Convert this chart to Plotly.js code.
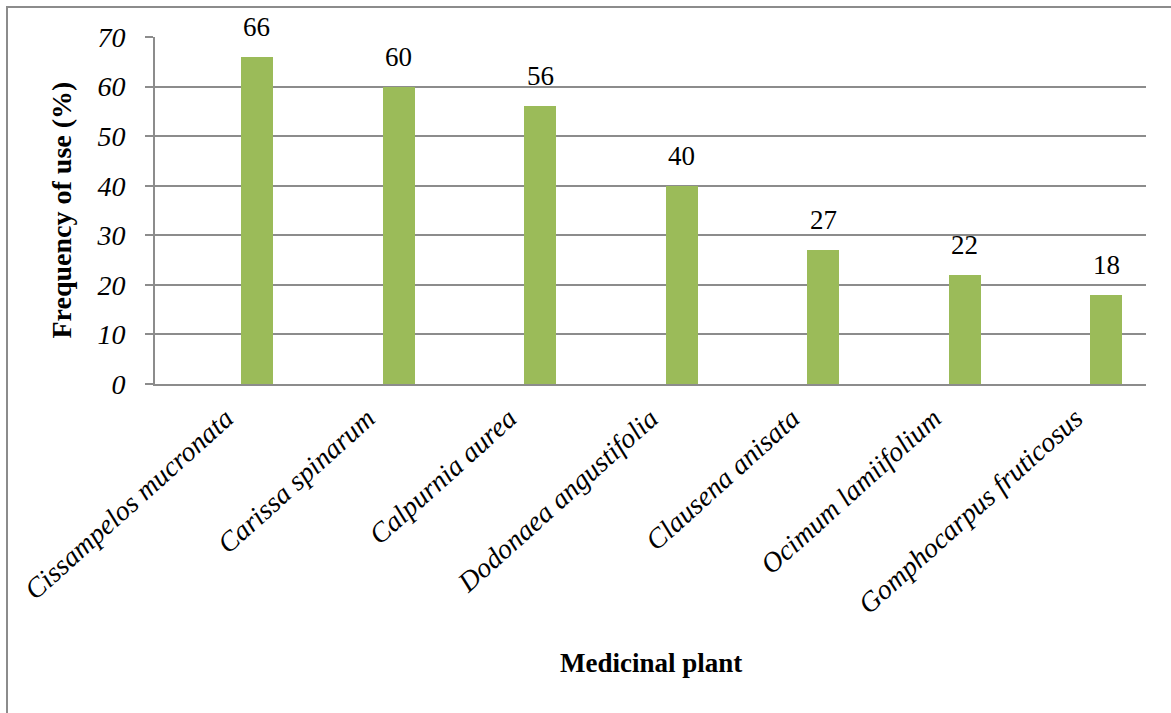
<!DOCTYPE html>
<html>
<head>
<meta charset="utf-8">
<script src="https://cdn.plot.ly/plotly-3.0.1.min.js"></script>
<style>
  html, body { margin: 0; padding: 0; background: #fff; overflow: hidden; }
  #frame { position: absolute; left: 6px; top: 6px; width: 1300px; height: 900px;
           border: 2px solid #8c8c8c; box-sizing: border-box; pointer-events: none; }
  #chart { position: absolute; left: 0; top: 0; width: 1171px; height: 713px; }
</style>
</head>
<body>
<div id="chart"></div>
<div id="frame"></div>
<script>
const categories = ["Cissampelos mucronata", "Carissa spinarum", "Calpurnia aurea",
  "Dodonaea angustifolia", "Clausena anisata", "Ocimum lamiifolium", "Gomphocarpus fruticosus"];
const values = [66, 60, 56, 40, 27, 22, 18];
const yTicks = [0, 10, 20, 30, 40, 50, 60, 70];
const xTitle = "Medicinal plant";
const yTitle = "Frequency of use (%)";

const serif = "Liberation Serif";
const plotL = 155, plotR = 25, plotT = 37, plotB = 329;
const plotW = 1171 - plotL - plotR;
const plotH = 713 - plotT - plotB;
const slotPx = plotW / categories.length;
const barOffset = 0.107, barWidth = 0.226;
const centerShiftPx = (barOffset + barWidth / 2) * slotPx;

const trace = {
  type: "bar",
  x: categories,
  y: values,
  offset: barOffset,
  width: barWidth,
  marker: { color: "#9bbb59", line: { width: 0 } },
  hoverinfo: "skip"
};

const annotations = categories.map((c, i) => ({
  x: c, y: values[i], xref: "x", yref: "y",
  text: String(values[i]), showarrow: false,
  xshift: centerShiftPx, yanchor: "bottom", yshift: 13,
  font: { family: serif, size: 27, color: "#000" }
}));

annotations.push({
  xref: "paper", yref: "paper", x: 0.5, y: (plotH - (663 - plotT)) / plotH,
  text: "<b>" + xTitle + "</b>", showarrow: false,
  xanchor: "center", yanchor: "middle",
  font: { family: serif, size: 27, color: "#000" }
});
annotations.push({
  xref: "paper", yref: "paper", x: (61 - plotL) / plotW, y: 0.5,
  text: "<b>" + yTitle + "</b>", showarrow: false, textangle: -90,
  xanchor: "center", yanchor: "middle",
  font: { family: serif, size: 28, color: "#000" }
});

const layout = {
  width: 1171, height: 713,
  margin: { l: plotL, r: plotR, t: plotT, b: plotB, pad: 0 },
  paper_bgcolor: "#fff", plot_bgcolor: "#fff",
  showlegend: false,
  bargap: 0,
  xaxis: {
    type: "category",
    range: [-0.5, categories.length - 0.5],
    tickangle: -42,
    tickfont: { family: serif, size: 28, color: "#000", style: "italic" },
    ticklabelstandoff: 5,
    showgrid: false, zeroline: false,
    showline: true, linecolor: "#8c8c8c", linewidth: 2,
    ticks: "", ticklen: 0,
    automargin: false
  },
  yaxis: {
    range: [0, 70],
    tickvals: yTicks,
    ticktext: yTicks.map(String),
    tickfont: { family: serif, size: 28, color: "#000", style: "italic" },
    ticklabelstandoff: 14,
    showgrid: true, gridcolor: "#8c8c8c", gridwidth: 2,
    zeroline: false,
    showline: true, linecolor: "#8c8c8c", linewidth: 2,
    ticks: "outside", ticklen: 8, tickcolor: "#8c8c8c", tickwidth: 2,
    automargin: false
  },
  annotations: annotations
};

Plotly.newPlot("chart", [trace], layout, { displayModeBar: false, staticPlot: true });
</script>
</body>
</html>
